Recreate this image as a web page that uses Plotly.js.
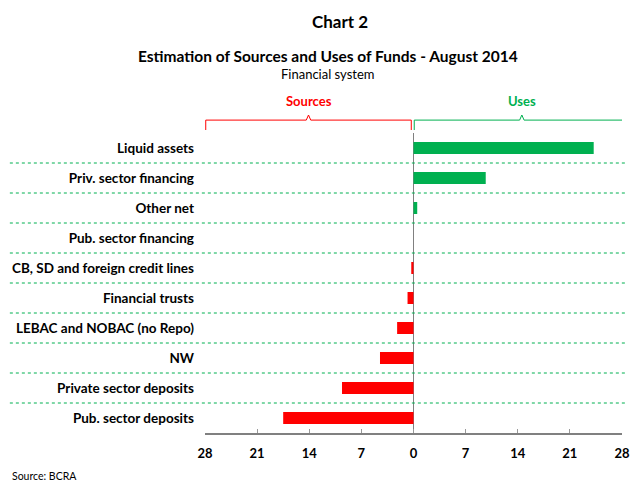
<!DOCTYPE html>
<html>
<head>
<meta charset="utf-8">
<script src="https://cdn.plot.ly/plotly-3.0.1.min.js"></script>
<style>
  body { margin: 0; background: #fff; }
  #graph { width: 631px; height: 481px; }
</style>
</head>
<body>
<div id="graph"></div>
<script>
// Categorias (de arriba hacia abajo)
const categories = [
    'Liquid assets',
    'Priv. sector financing',
    'Other net',
    'Pub. sector financing',
    'CB, SD and foreign credit lines',
    'Financial trusts',
    'LEBAC and NOBAC (no Repo)',
    'NW',
    'Private sector deposits',
    'Pub. sector deposits'
];

// Valores: positivos = usos, negativos = fuentes
const values = [24.2, 9.7, 0.5, 0, -0.3, -0.8, -2.2, -4.5, -9.6, -17.5];

// Ticks del eje x (se muestran en valor absoluto)
const tickVals = [-28, -21, -14, -7, 0, 7, 14, 21, 28];
const tickText = ['28', '21', '14', '7', '0', '7', '14', '21', '28'];

const green = '#00B050';
const red = '#FF0000';
const font = 'Lato, "Open Sans", sans-serif';

const barColors = values.map(v => v >= 0 ? green : red);

const trace = {
    type: 'bar',
    orientation: 'h',
    x: values,
    y: categories,
    marker: { color: barColors, line: { width: 0 } },
    hoverinfo: 'x+y',
    showlegend: false
};

// Lineas punteadas entre categorias
const separators = [];
for (let i = 0; i < categories.length - 1; i++) {
    separators.push({
        type: 'line', xref: 'paper', yref: 'y',
        x0: -0.468, x1: 1.014, y0: i + 0.5, y1: i + 0.5,
        line: { color: green, width: 1, dash: 'dot' }
    });
}

// Llaves de "Sources" y "Uses"
function brace(xa, xb, color) {
    const xm = (xa + xb) / 2;
    return {
        type: 'path', xref: 'x', yref: 'paper',
        path: `M ${xa},1.01 L ${xa},1.043 L ${xm - 0.3},1.043 L ${xm},1.06 L ${xm + 0.3},1.043 L ${xb},1.043 L ${xb},1.01`,
        line: { color: color, width: 1 }
    };
}

function note(text, x, y, size, color, xref) {
    return {
        text: text, xref: xref || 'paper', yref: 'paper', x: x, y: y,
        xanchor: 'center', yanchor: 'middle', showarrow: false,
        font: { size: size, color: color || '#000' }
    };
}

const sourceNote = note('Source: BCRA', -0.468, -0.143, 10.5);
sourceNote.xanchor = 'left';

const layout = {
    width: 631,
    height: 481,
    margin: { l: 205, r: 9, t: 133, b: 48 },
    paper_bgcolor: '#fff',
    plot_bgcolor: '#fff',
    bargap: 0.6,
    font: { family: font, color: '#000' },
    xaxis: {
        range: [-28, 28],
        tickvals: tickVals,
        ticktext: tickText,
        ticks: 'inside',
        ticklen: 4,
        tickcolor: '#999',
        showgrid: false,
        showline: true,
        linecolor: '#808080',
        linewidth: 1.5,
        zeroline: true,
        zerolinecolor: '#808080',
        zerolinewidth: 1.5,
        tickfont: { size: 13, weight: 'bold', color: '#000' },
        ticklabelstandoff: 8,
        fixedrange: true
    },
    yaxis: {
        type: 'category',
        autorange: 'reversed',
        showgrid: false,
        showline: false,
        zeroline: false,
        ticks: '',
        ticklabelstandoff: 10,
        tickfont: { size: 13.5, weight: 'bold', color: '#000' },
        fixedrange: true
    },
    shapes: separators.concat([
        brace(-27.9, -0.3, red),
        brace(0.1, 29, green)
    ]),
    annotations: [
        note('<b>Chart 2</b>', 0.324, 1.37, 17),
        note('<b>Estimation of Sources and Uses of Funds - August 2014</b>', 0.295, 1.257, 15.5),
        note('Financial system', 0.295, 1.197, 13),
        note('<b>Sources</b>', -14, 1.107, 13, red, 'x'),
        note('<b>Uses</b>', 14.6, 1.107, 13, green, 'x'),
        sourceNote
    ]
};

Plotly.newPlot('graph', [trace], layout, { displayModeBar: false, staticPlot: true });
</script>
</body>
</html>
